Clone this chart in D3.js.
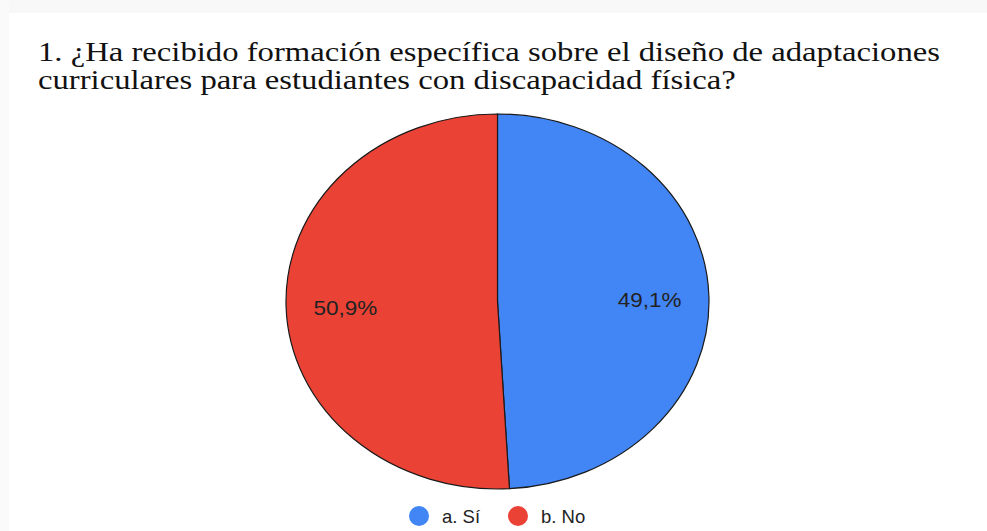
<!DOCTYPE html>
<html>
<head>
<meta charset="utf-8">
<script src="https://cdn.jsdelivr.net/npm/d3@7"></script>
<style>
  html, body { margin: 0; padding: 0; background: #ffffff; }
  svg { display: block; }
</style>
</head>
<body>
<svg id="chart" width="987" height="531"></svg>
<script>
// ---- data ----
const titleLines = [
  "1. ¿Ha recibido formación específica sobre el diseño de adaptaciones",
  "curriculares para estudiantes con discapacidad física?"
];
const categories = ["a. Sí", "b. No"];
const values = [49.1, 50.9];
const colors = ["#4285F4", "#EA4335"];

// ---- layout ----
const W = 987, H = 531;
const cx = 497.5, cy = 301.5;
const ry = 187.5, rx = 211.5;
const stretch = rx / ry;
const svg = d3.select("#chart");

// faint border region like the scanned image
svg.append("rect").attr("x", 0).attr("y", 0).attr("width", W).attr("height", 13).attr("fill", "#f8f8f8");
svg.append("rect").attr("x", 0).attr("y", 0).attr("width", 9).attr("height", H).attr("fill", "#fafafa");

// title (horizontally stretched like the reference image)
const tl = svg.append("g").selectAll("text").data(titleLines).enter().append("text")
  .attr("x", 38)
  .attr("y", (d, i) => 61 + i * 27.5)
  .attr("font-family", "'Liberation Serif', 'Times New Roman', serif")
  .attr("font-size", 26.5)
  .attr("fill", "#111")
  .text(d => d);
const w0 = tl.nodes()[0].getComputedTextLength();
const titleStretch = 902 / w0;
tl.each(function () {
  const w = this.getComputedTextLength();
  d3.select(this).attr("textLength", w * titleStretch).attr("lengthAdjust", "spacingAndGlyphs");
});

// pie
const pie = d3.pie().sort(null).value(d => d)
  .startAngle(0).endAngle(2 * Math.PI);
const arcs = pie(values);
const arc = d3.arc().innerRadius(0).outerRadius(ry);
const labelArc = d3.arc().innerRadius(ry * 0.72).outerRadius(ry * 0.72);

const g = svg.append("g")
  .attr("transform", `translate(${cx},${cy}) scale(${stretch},1)`);

g.selectAll("path").data(arcs).enter().append("path")
  .attr("d", arc)
  .attr("fill", (d, i) => colors[i])
  .attr("stroke", "#1a1a1a")
  .attr("stroke-width", 1.2)
  .attr("vector-effect", "non-scaling-stroke");

// labels
const fmt = v => d3.format(".1f")(v).replace(".", ",") + "%";
const lbl = svg.append("g").attr("transform", `translate(${cx},${cy})`)
  .selectAll("text").data(arcs).enter().append("text")
  .attr("x", d => labelArc.centroid(d)[0] * stretch)
  .attr("y", d => labelArc.centroid(d)[1] + 2)
  .attr("text-anchor", "middle")
  .attr("dominant-baseline", "central")
  .attr("font-family", "'Liberation Sans', Arial, sans-serif")
  .attr("font-size", 21)
  .attr("fill", "#222")
  .text(d => fmt(d.data));
lbl.each(function () {
  const w = this.getComputedTextLength();
  d3.select(this).attr("textLength", w * 1.07).attr("lengthAdjust", "spacingAndGlyphs");
});

// legend
const legend = svg.append("g").attr("transform", "translate(0,516)");
const xs = d3.scalePoint().domain(categories).range([419, 518]);
const li = legend.selectAll("g").data(categories).enter().append("g")
  .attr("transform", d => `translate(${xs(d)},0)`);
li.append("circle").attr("r", 10).attr("fill", (d, i) => colors[i]);
li.append("text")
  .attr("x", 23)
  .attr("dominant-baseline", "central")
  .attr("font-family", "'Liberation Sans', Arial, sans-serif")
  .attr("font-size", 18.5)
  .attr("fill", "#222")
  .text(d => d);
</script>
</body>
</html>
